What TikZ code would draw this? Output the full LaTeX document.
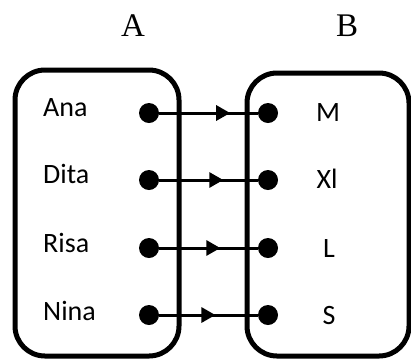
\documentclass[tikz,border=0pt]{standalone}
\usepackage{fontspec}
\setmainfont{Liberation Serif}
\newfontfamily\labelfont{Carlito}
\usetikzlibrary{arrows.meta,decorations.markings}

\begin{document}
\begin{tikzpicture}[x=1pt, y=-1pt,
    setbox/.style={draw, line width=5pt, rounded corners=30pt, inner sep=0pt},
    dot/.style={circle, fill, inner sep=0pt, minimum size=20pt},
    elem/.style={font=\labelfont\fontsize{28}{32}\selectfont, inner sep=0pt},
    title/.style={font=\fontsize{33}{38}\selectfont, inner sep=0pt},
    maps/.style={line width=3pt, postaction={decorate},
      decoration={markings, mark=at position #1 with {\arrow{Triangle[length=14pt, width=15pt]}}}}]
        \useasboundingbox (0,0) rectangle (411,360);

        \node[title, anchor=base] (titleA) at (133,36) {A};
        \node[title, anchor=base] (titleB) at (347,36) {B};

        \node[setbox, minimum width=164pt, minimum height=286pt] (setA) at (97,213) {};
        \node[setbox, minimum width=162pt, minimum height=283pt] (setB) at (328,214.5) {};

        \node[elem, anchor=base west] (anaLabel) at (43,116) {Ana};
        \node[elem, anchor=base west] (ditaLabel) at (43,183) {Dita};
        \node[elem, anchor=base west] (risaLabel) at (43,252) {Risa};
        \node[elem, anchor=base west] (ninaLabel) at (43,320) {Nina};

        \node[elem, anchor=base] (mLabel) at (328,121) {M};
        \node[elem, anchor=base] (xlLabel) at (327,188) {Xl};
        \node[elem, anchor=base] (lLabel) at (329,257) {L};
        \node[elem, anchor=base] (sLabel) at (329,324) {S};

        \node[dot] (ana) at (149,113) {};
        \node[dot] (dita) at (149,180) {};
        \node[dot] (risa) at (149,248) {};
        \node[dot] (nina) at (149,315) {};

        \node[dot] (m) at (268,113) {};
        \node[dot] (xl) at (268,180) {};
        \node[dot] (l) at (268,248) {};
        \node[dot] (s) at (268,315) {};

        \path (ana) edge[maps=0.72] (m);
        \path (dita) edge[maps=0.65] (xl);
        \path (risa) edge[maps=0.62] (l);
        \path (nina) edge[maps=0.57] (s);
      \end{tikzpicture}
\end{document}
